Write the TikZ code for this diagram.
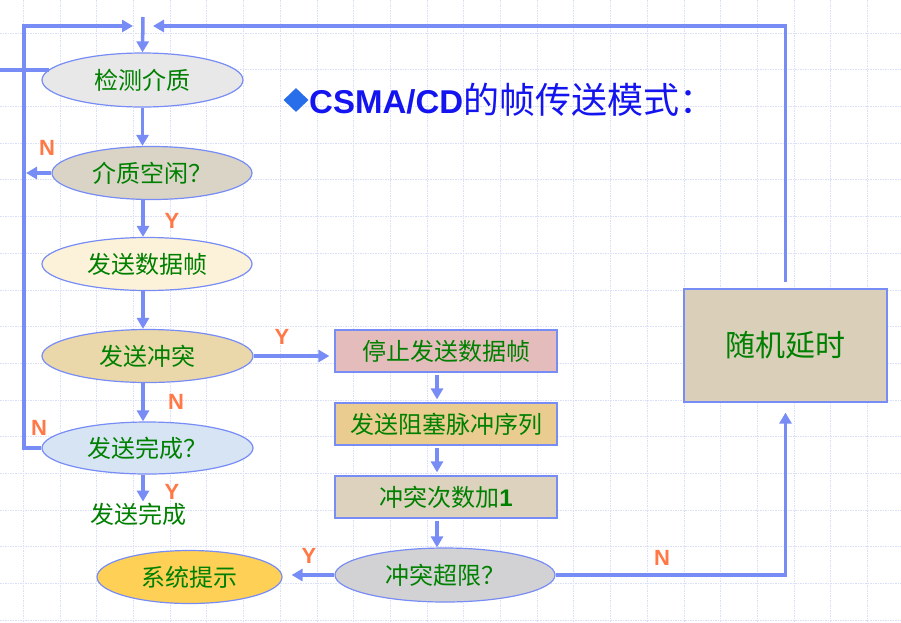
\documentclass[tikz,border=0pt]{standalone}
\usepackage{fontspec}
\newfontfamily\cjk{Noto Sans CJK SC}
\newfontfamily\latin{Liberation Sans}
\usetikzlibrary{shapes.geometric,arrows.meta}
\definecolor{flowline}{RGB}{120,140,245}
\definecolor{gridline}{RGB}{218,224,248}
\definecolor{txtgreen}{RGB}{0,128,0}
\definecolor{markorange}{RGB}{255,120,70}
\definecolor{titleblue}{RGB}{20,20,240}
\definecolor{bulletblue}{RGB}{40,110,235}
\definecolor{detectfill}{RGB}{232,232,232}
\definecolor{idlefill}{RGB}{218,212,198}
\definecolor{sendfill}{RGB}{252,242,218}
\definecolor{collfill}{RGB}{234,216,170}
\definecolor{donefill}{RGB}{214,228,244}
\definecolor{sysfill}{RGB}{254,208,86}
\definecolor{stopfill}{RGB}{228,188,188}
\definecolor{jamfill}{RGB}{234,204,144}
\definecolor{countfill}{RGB}{220,210,190}
\definecolor{limitfill}{RGB}{210,210,212}
\definecolor{delayfill}{RGB}{218,208,186}
\begin{document}
\begin{tikzpicture}[x=1pt, y=-1pt,
    oval/.style={
        ellipse,
        draw=flowline,
        line width=1.2pt,
        fill=#1,
        inner sep=0pt,
        minimum width=211pt,
        minimum height=53pt,
        text=txtgreen,
        font=\cjk\fontsize{24}{28}\selectfont
    },
    panel/.style={
        rectangle,
        draw=flowline,
        line width=1.2pt,
        fill=#1,
        inner sep=0pt,
        minimum width=222pt,
        minimum height=42pt,
        text=txtgreen,
        font=\cjk\fontsize{24}{28}\selectfont
    },
    flow/.style={-{Triangle[length=11pt,width=12pt]}, line width=3.5pt, flowline},
    wire/.style={line width=3.5pt, flowline},
    yn/.style={text=markorange, font=\latin\bfseries\fontsize{22}{24}\selectfont},
    gridln/.style={gridline, line width=0.8pt, dash pattern=on 1.5pt off 1pt}
]

\fill[white] (0,0) rectangle (901,622);
\useasboundingbox (0,0) rectangle (901,622);
\foreach \k in {0,...,23}
    \draw[gridln] (23.3+36.7*\k,0) -- (23.3+36.7*\k,622);
\foreach \k in {1,...,17}
    \draw[gridln] (0,-3.7+36.7*\k) -- (901,-3.7+36.7*\k);

\node[oval=detectfill, minimum width=201pt, minimum height=54pt] (detect) at (142.5,80) {检测介质};
\node[oval=idlefill, minimum width=200pt] (idle) at (152,173) {介质空闲？};
\node[oval=sendfill, minimum width=210pt] (send) at (147,264) {发送数据帧};
\node[oval=collfill] (coll) at (147.5,356) {发送冲突};
\node[oval=donefill, minimum height=52pt] (done) at (147.5,448) {发送完成？};
\node[text=txtgreen, font=\cjk\fontsize{24}{28}\selectfont, inner sep=1pt] (fin) at (138,514) {发送完成};
\node[oval=sysfill, minimum width=185pt] (sys) at (189.5,577) {系统提示};

\node[panel=stopfill] (stop) at (446,351) {停止发送数据帧};
\node[panel=jamfill] (jam) at (446,424) {发送阻塞脉冲序列};
\node[panel=countfill] (count) at (446,497) {冲突次数加{\latin\bfseries 1}};
\node[oval=limitfill, minimum width=220pt, minimum height=54pt] (limit) at (445,575) {冲突超限？};
\node[panel=delayfill, minimum width=203pt, minimum height=113pt,
      font=\cjk\fontsize{30}{34}\selectfont] (delay) at (785.5,345.5) {随机延时};

\node[diamond, fill=bulletblue, inner sep=0pt, minimum width=25pt, minimum height=24pt] (bullet) at (296,100) {};
\node[anchor=west, inner sep=0pt, text=titleblue] (title) at (309,100)
    {{\latin\bfseries\fontsize{33}{36}\selectfont CSMA/CD}{\cjk\fontsize{36}{40}\selectfont 的帧传送模式：}};

\coordinate (entry) at (143,17);
\coordinate (merge) at (143,26);
\coordinate (loopL) at (24,26);
\coordinate (axis) at (143,0);
\coordinate (col) at (437,0);
\coordinate (stub) at (0,70);
\coordinate (stubend) at (49,70);

\draw[wire] (stub) -- (stubend);
\draw[flow] (entry) -- (detect.north);
\draw[flow, shorten >=10pt] (done.west) -| (loopL) -- (merge);
\draw[flow, shorten <=6pt, shorten >=10pt] (delay.north) -- (delay.north |- merge) -- (merge);

\draw[flow] (detect.south) -- (detect.south |- idle.north);
\draw[flow, shorten >=2pt] (idle.west) -- (idle.west -| loopL);
\draw[flow] (idle.south -| axis) -- (send.north -| axis);
\draw[flow] (send.south -| axis) -- (coll.north -| axis);
\draw[flow] (coll.south -| axis) -- (done.north -| axis);
\draw[flow] (done.south -| axis) -- (fin.north -| axis);
\draw[flow, shorten >=5pt] (coll.east) -- (coll.east -| stop.west);

\draw[flow, shorten <=2pt, shorten >=3pt] (stop.south -| col) -- (jam.north -| col);
\draw[flow, shorten <=2pt, shorten >=3pt] (jam.south -| col) -- (count.north -| col);
\draw[flow, shorten <=2pt] (count.south -| col) -- (limit.north -| col);
\draw[flow, shorten >=9pt] (limit.west) -- (limit.west -| sys.east);
\draw[flow, shorten >=10pt] (limit.east) -| (delay.south);

\node[yn] (n1) at (47,148) {N};
\node[yn] (y1) at (172,221) {Y};
\node[yn] (y2) at (282,337) {Y};
\node[yn] (n2) at (176,402) {N};
\node[yn] (n3) at (39,428) {N};
\node[yn] (y3) at (172,492) {Y};
\node[yn] (y4) at (309,556) {Y};
\node[yn] (n4) at (662,558) {N};

\end{tikzpicture}
\end{document}
